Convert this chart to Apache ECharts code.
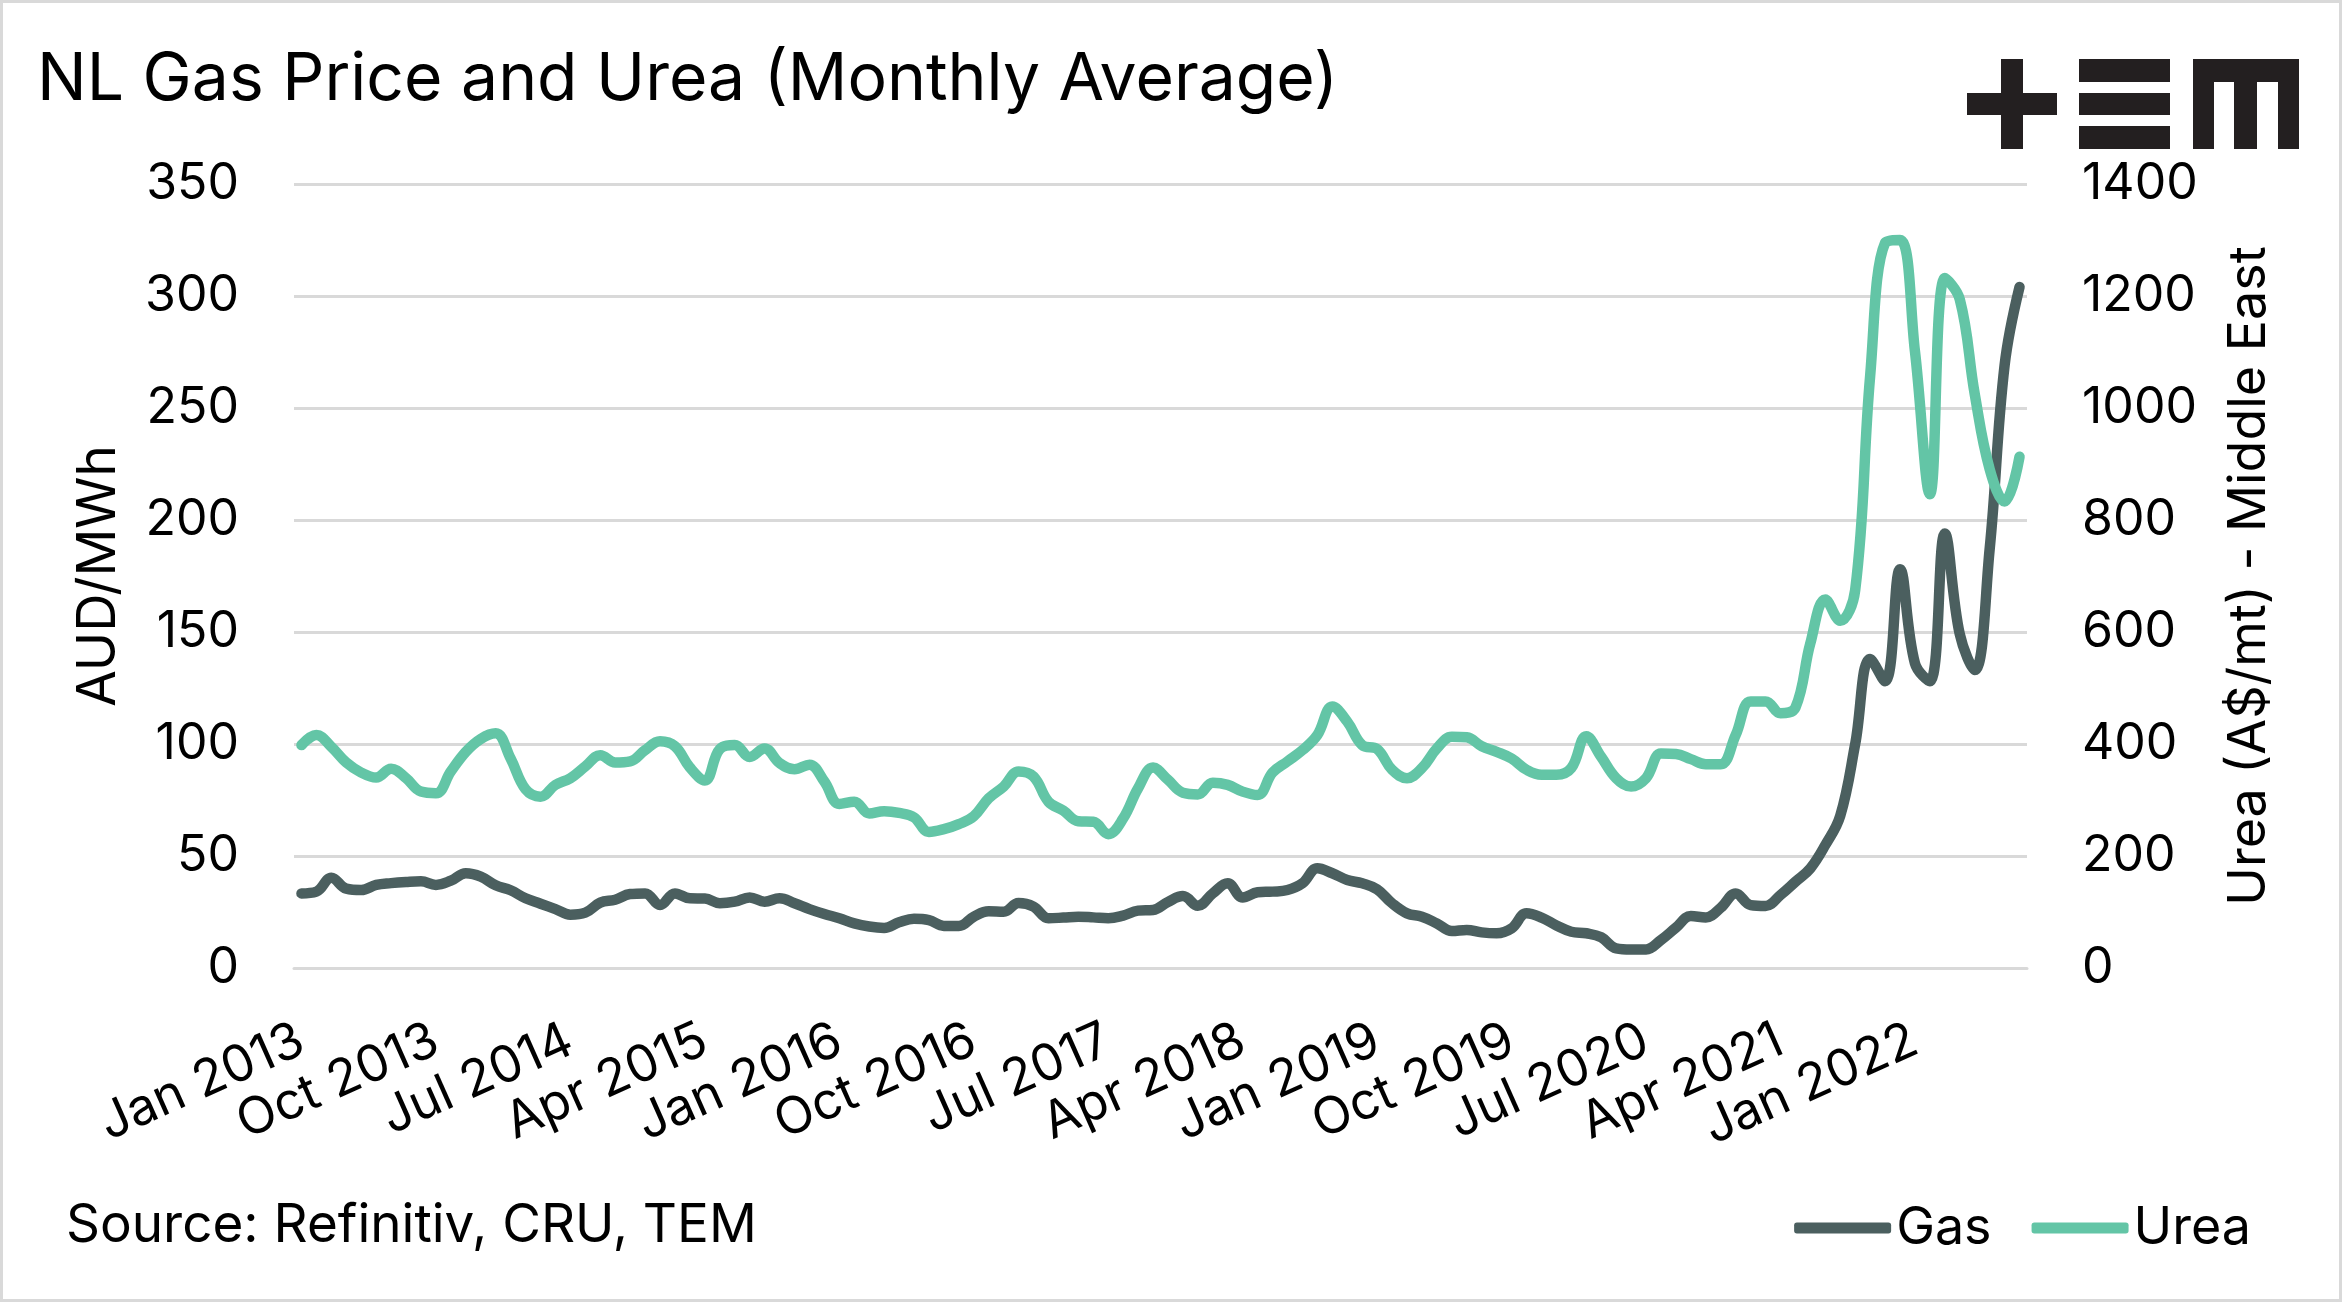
<!DOCTYPE html>
<html>
<head>
<meta charset="utf-8">
<script src="https://cdn.jsdelivr.net/npm/echarts@6/dist/echarts.min.js"></script>
<style>
  html, body { margin: 0; padding: 0; background: #ffffff; }
  #chart { width: 2342px; height: 1302px; }
</style>
</head>
<body>
<div id="chart"></div>
<script>
// ---- Data (monthly averages, Jan 2013 - Aug 2022) ----
const monthNames = ['Jan','Feb','Mar','Apr','May','Jun','Jul','Aug','Sep','Oct','Nov','Dec'];
const startYear = 2013;
const monthCount = 116;

// NL gas price, AUD/MWh
const gas = [
  33.3, 34.1, 40.3, 35.4, 34.8, 37.1, 37.9, 38.4, 38.7, 37.1,
  39.0, 42.3, 40.8, 36.9, 34.7, 31.1, 28.7, 26.3, 23.8, 24.7,
  29.2, 30.5, 33.0, 33.3, 28.1, 33.3, 31.1, 31.0, 28.9, 29.6,
  31.5, 29.6, 31.1, 28.9, 26.3, 24.1, 22.2, 19.9, 18.5, 17.9,
  20.4, 22.0, 21.4, 18.8, 18.8, 22.9, 25.3, 25.1, 29.0, 27.4,
  22.2, 22.5, 22.9, 22.6, 22.2, 23.4, 25.6, 25.9, 29.5, 32.1,
  27.8, 33.3, 37.8, 31.5, 33.8, 34.1, 34.8, 37.8, 44.5, 42.3,
  39.3, 37.8, 35.1, 28.9, 24.4, 22.9, 19.9, 16.5, 17.0, 15.9,
  15.5, 17.7, 24.4, 22.5, 19.0, 16.2, 15.5, 13.7, 8.8, 8.3,
  8.3, 12.5, 18.0, 23.2, 22.6, 26.9, 33.3, 28.1, 27.7, 32.6,
  38.5, 44.5, 54.9, 68.0, 100.0, 138.0, 128.0, 178.0, 136.0, 128.0,
  194.0, 149.0, 133.0, 187.0, 269.0, 304.0
];

// Urea, Middle East, A$/mt
const urea = [
  398, 416, 395, 367, 349, 340, 356, 339, 315, 312,
  351, 386, 409, 419, 374, 319, 306, 327, 339, 360,
  380, 367, 369, 389, 405, 396, 358, 335, 391, 398,
  377, 392, 366, 355, 363, 333, 293, 297, 276, 280,
  277, 269, 243, 248, 257, 271, 303, 324, 351, 342,
  297, 281, 262, 261, 239, 267, 321, 358, 336, 313,
  310, 331, 327, 315, 309, 349, 369, 389, 416, 467,
  440, 398, 391, 354, 339, 357, 392, 413, 412, 396,
  386, 374, 354, 345, 345, 357, 414, 377, 339, 324,
  339, 383, 382, 373, 364, 364, 416, 476, 476, 455,
  465, 580, 658, 620, 675, 1057, 1295, 1300, 1101, 846,
  1232, 1194, 1025, 891, 833, 913
];

const leftTicks = { min: 0, max: 350, interval: 50 };
const rightTicks = { min: 0, max: 1400, interval: 200 };

const titleText = 'NL Gas Price and Urea (Monthly Average)';
const sourceText = 'Source: Refinitiv, CRU, TEM';
const leftAxisName = 'AUD/MWh';
const rightAxisName = 'Urea (A$/mt) - Middle East';
const seriesNames = ['Gas', 'Urea'];

// ---- Build categories ----
const categories = [];
for (let i = 0; i < monthCount; i++) {
  categories.push(monthNames[i % 12] + ' ' + (startYear + Math.floor(i / 12)));
}

const FONT = 'Inter, "Liberation Sans", Arial, sans-serif';
const GAS_COLOR = '#4b5f5f';
const UREA_COLOR = '#63c5a6';
const GRID_COLOR = '#d9d9d9';
const LOGO_COLOR = '#231f20';

const chart = echarts.init(document.getElementById('chart'), null, { renderer: 'canvas' });

const option = {
  animation: false,
  backgroundColor: '#ffffff',
  title: {
    text: titleText,
    left: 32,
    top: 42,
    textStyle: { fontFamily: FONT, fontSize: 66, fontWeight: 'normal', color: '#000000' }
  },
  legend: {
    data: seriesNames,
    right: 86,
    top: 1197,
    itemWidth: 97,
    itemHeight: 11,
    itemGap: 40,
    icon: 'roundRect',
    textStyle: { fontFamily: FONT, fontSize: 52, color: '#000000' }
  },
  grid: { left: 294, right: 315, top: 184, bottom: 334, containLabel: false },
  xAxis: {
    type: 'category',
    data: categories,
    boundaryGap: true,
    axisLine: { lineStyle: { color: GRID_COLOR, width: 3 } },
    axisTick: { interval: 8, length: 16, lineStyle: { color: GRID_COLOR, width: 3 } },
    axisLabel: {
      interval: 8, rotate: 24, margin: 70,
      fontFamily: FONT, fontSize: 51, color: '#000000'
    },
    splitLine: { show: false }
  },
  yAxis: [
    {
      type: 'value',
      min: leftTicks.min, max: leftTicks.max, interval: leftTicks.interval,
      name: leftAxisName,
      nameLocation: 'middle',
      nameRotate: 90,
      nameGap: 168,
      nameTextStyle: { fontFamily: FONT, fontSize: 53, color: '#000000' },
      axisLine: { show: false },
      axisTick: { show: false },
      axisLabel: { margin: 55, fontFamily: FONT, fontSize: 50, color: '#000000' },
      splitLine: { show: true, lineStyle: { color: GRID_COLOR, width: 3 } }
    },
    {
      type: 'value',
      position: 'right',
      min: rightTicks.min, max: rightTicks.max, interval: rightTicks.interval,
      name: rightAxisName,
      nameLocation: 'middle',
      nameRotate: 90,
      nameGap: 196,
      nameTextStyle: { fontFamily: FONT, fontSize: 52, color: '#000000' },
      axisLine: { show: false },
      axisTick: { show: false },
      axisLabel: {
        margin: 55, fontFamily: FONT, fontSize: 50, color: '#000000',
        formatter: function (v) { return String(v); }
      },
      splitLine: { show: false }
    }
  ],
  series: [
    {
      name: seriesNames[0],
      type: 'line',
      yAxisIndex: 0,
      data: gas,
      smooth: 0.4,
      symbol: 'none',
      showSymbol: false,
      color: GAS_COLOR,
      lineStyle: { width: 10.5, color: GAS_COLOR, cap: 'round', join: 'round' },
      z: 2
    },
    {
      name: seriesNames[1],
      type: 'line',
      yAxisIndex: 1,
      data: urea,
      smooth: 0.4,
      symbol: 'none',
      showSymbol: false,
      color: UREA_COLOR,
      lineStyle: { width: 10.5, color: UREA_COLOR, cap: 'round', join: 'round' },
      z: 3
    }
  ],
  graphic: [
    {
      type: 'rect', silent: true, z: -1,
      shape: { x: 1.5, y: 1.5, width: 2339, height: 1299 },
      style: { fill: 'none', stroke: GRID_COLOR, lineWidth: 3 }
    },
    {
      type: 'text', left: 66, top: 1200,
      style: { text: sourceText, font: '53px ' + FONT, fill: '#000000' }
    },
    {
      type: 'group', left: 1967, top: 59,
      children: [
        { type: 'rect', shape: { x: 0, y: 34, width: 90, height: 22 }, style: { fill: LOGO_COLOR } },
        { type: 'rect', shape: { x: 34, y: 0, width: 22, height: 90 }, style: { fill: LOGO_COLOR } },
        { type: 'rect', shape: { x: 112, y: 0, width: 91, height: 23 }, style: { fill: LOGO_COLOR } },
        { type: 'rect', shape: { x: 112, y: 34, width: 91, height: 22 }, style: { fill: LOGO_COLOR } },
        { type: 'rect', shape: { x: 112, y: 67, width: 91, height: 23 }, style: { fill: LOGO_COLOR } },
        { type: 'rect', shape: { x: 226, y: 0, width: 106, height: 23 }, style: { fill: LOGO_COLOR } },
        { type: 'rect', shape: { x: 226, y: 0, width: 21, height: 90 }, style: { fill: LOGO_COLOR } },
        { type: 'rect', shape: { x: 267, y: 0, width: 23, height: 90 }, style: { fill: LOGO_COLOR } },
        { type: 'rect', shape: { x: 311, y: 0, width: 21, height: 90 }, style: { fill: LOGO_COLOR } }
      ]
    }
  ]
};

chart.setOption(option);
</script>
</body>
</html>
